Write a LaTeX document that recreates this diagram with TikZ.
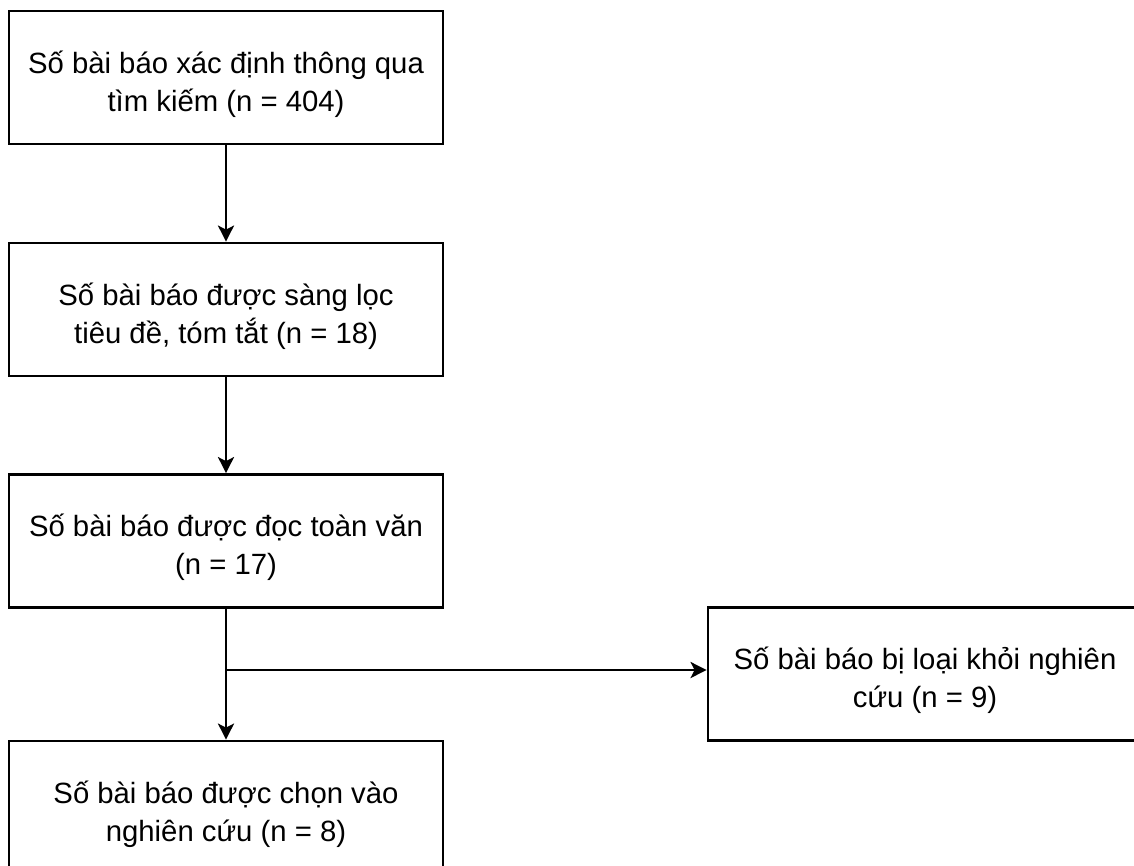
\documentclass[tikz,border=0pt]{standalone}
\usepackage{fontspec}
\setmainfont{Liberation Sans}
\usepackage{xcolor}
\usepackage{tikz}
\usetikzlibrary{arrows.meta,positioning,calc}
\definecolor{cLine}{HTML}{000000}
\tikzset{
  box/.style={draw=cLine, line width=2.8pt, fill=white, text=black, align=center,
              font=\fontsize{29.3}{38}\selectfont, minimum width=434pt, minimum height=133pt,
              inner sep=0pt, text height=67pt, text depth=0pt},
  flow/.style={-{Stealth[length=16pt, width=16pt, inset=4pt]}, line width=2.8pt, draw=cLine},
}
\begin{document}
\begin{tikzpicture}[x=1pt, y=-1pt]
  \useasboundingbox (0,0) rectangle (1134,865);
  \clip (0,0) rectangle (1134,865);
  \node[box] (srch) at (226,77.5) {Số bài báo xác định thông qua\\tìm kiếm (n = 404)};
  \node[box] (screen) at (226,309.5) {Số bài báo được sàng lọc\\tiêu đề, tóm tắt (n = 18)};
  \node[box] (fulltext) at (226,541) {Số bài báo được đọc toàn văn\\(n = 17)};
  \node[box] (incl) at (226,807.5) {Số bài báo được chọn vào\\nghiên cứu (n = 8)};
  \node[box] (excl) at (925,674) {Số bài báo bị loại khỏi nghiên\\cứu (n = 9)};
  \coordinate (split) at (226,670);
  \draw[flow] (srch) -- (screen);
  \draw[flow] (screen) -- (fulltext);
  \draw[flow] (fulltext) -- (incl);
  \draw[flow] (split) -- (split -| excl.west);
\end{tikzpicture}
\end{document}
